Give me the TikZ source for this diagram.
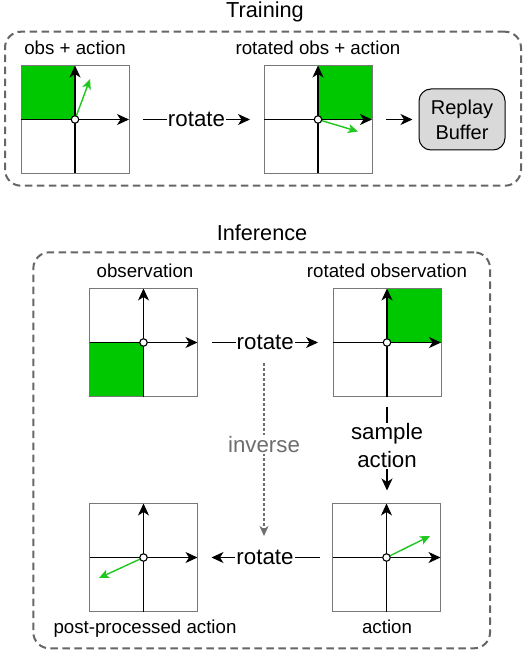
\documentclass[tikz,border=0pt]{standalone}
\usepackage{fontspec}
\setmainfont{Liberation Sans}
\usetikzlibrary{arrows.meta}
\definecolor{qgreen}{RGB}{0,200,0}
\definecolor{agreen}{RGB}{30,200,30}
\definecolor{dgray}{RGB}{102,102,102}
\definecolor{pgray}{RGB}{120,120,120}
\definecolor{igray}{RGB}{110,110,110}
\definecolor{rbfill}{RGB}{217,217,217}
\newcommand\panelaxes[1]{%
  \draw[pgray, line width=0.9pt] (#1.north west) rectangle (#1.south east);
  \draw[axis] (#1.west) -- (#1.center) -- (#1.south);
  \draw[axis,tip] (#1.center) -- (#1.east);
  \draw[axis,tip] (#1.center) -- (#1.north);
}
\begin{document}
\begin{tikzpicture}[x=1pt,y=-1pt,
  group/.style={draw=dgray, line width=2pt, dash pattern=on 7.5pt off 4.5pt, rounded corners=16pt, inner sep=0pt},
  panel/.style={draw=pgray, fill=white, line width=0.9pt, minimum size=108pt, inner sep=0pt, outer sep=0pt},
  axis/.style={line width=1.2pt, black},
  tip/.style={-{Stealth[length=12pt,width=11pt,inset=3.5pt]}},
  gtip/.style={-{Stealth[length=10pt,width=9pt,inset=2.5pt]}},
  garrow/.style={agreen, line width=1.4pt, gtip},
  origin/.style={circle, draw=black, fill=white, line width=1.1pt, inner sep=0pt, minimum size=7.5pt},
  lbl/.style={font=\fontsize{18.7}{22}\selectfont, anchor=base},
  big/.style={font=\fontsize{22.3}{28}\selectfont},
  title/.style={font=\fontsize{21.7}{26}\selectfont, anchor=base},
  conn/.style={line width=1.3pt, black, tip},
  clabel/.style={big, fill=white, inner xsep=1pt, inner ysep=1pt},
  invarrow/.style={igray, line width=1.2pt, dash pattern=on 3pt off 2pt, -{Stealth[length=10pt,width=9pt,inset=3pt]}},
  rbox/.style={draw=black, fill=rbfill, line width=1pt, rounded corners=12pt, minimum width=86pt, minimum height=61pt, align=center, font=\fontsize{20}{25}\selectfont, inner sep=0pt},
]
\useasboundingbox (0,0) rectangle (530,652);
\fill[white] (0,0) rectangle (530,652);

% ---------- Training ----------
\node[title] (ttrain) at (265,18) {Training};
\node[group, minimum width=516pt, minimum height=154pt] (gtrain) at (263,108.7) {};

\node[panel] (b1) at (75,119.5) {};
\node[panel] (b2) at (318,119.5) {};
\fill[qgreen] (b1.north west) rectangle (b1.center);
\fill[qgreen] (b2.north east) rectangle (b2.center);
\panelaxes{b1}
\panelaxes{b2}
\coordinate (a1) at (90,79);
\coordinate (a2) at (358,131.5);
\draw[garrow] (b1.center) -- (a1);
\draw[garrow] (b2.center) -- (a2);
\node[origin] (o1) at (b1.center) {};
\node[origin] (o2) at (b2.center) {};
\node[lbl] (l1) at (75,55) {obs + action};
\node[lbl] (l2) at (318,55) {rotated obs + action};

\node[rbox] (rb) at (462,119.5) {Replay\\Buffer};

\draw[conn, shorten <=14pt, shorten >=14pt] (b1.east) -- node[clabel] (r1) {rotate} (b2.west);
\draw[conn, shorten <=14pt, shorten >=6pt] (b2.east) -- (rb.west);

% ---------- Inference ----------
\node[title] (tinf) at (262,240) {Inference};
\node[group, minimum width=456.7pt, minimum height=396pt] (ginf) at (261.7,450.3) {};

\node[panel] (b3) at (143.5,342.5) {};
\node[panel] (b4) at (387,342.5) {};
\node[panel] (b5) at (386.5,557.5) {};
\node[panel] (b6) at (143.5,557.5) {};
\fill[qgreen] (b3.south west) rectangle (b3.center);
\fill[qgreen] (b4.north east) rectangle (b4.center);
\panelaxes{b3}
\panelaxes{b4}
\panelaxes{b5}
\panelaxes{b6}
\coordinate (a5) at (430,536);
\coordinate (a6) at (99,578);
\draw[garrow] (b5.center) -- (a5);
\draw[garrow] (b6.center) -- (a6);
\node[origin] (o3) at (b3.center) {};
\node[origin] (o4) at (b4.center) {};
\node[origin] (o5) at (b5.center) {};
\node[origin] (o6) at (b6.center) {};

\node[lbl] (l3) at (145,277) {observation};
\node[lbl] (l4) at (387,277) {rotated observation};
\node[lbl] (l5) at (387,633) {action};
\node[lbl] (l6) at (145,633) {post-processed action};

\draw[conn, shorten <=14pt, shorten >=15pt] (b3.east) -- node[clabel] (r2) {rotate} (b4.west);
\draw[conn, shorten <=10pt, shorten >=13pt] (b4.south) -- node[clabel, align=center, pos=0.46] (sa) {sample\\action} (b4.south |- b5.north);
\draw[conn, shorten <=13pt, shorten >=14pt] (b5.west) -- node[clabel] (r3) {rotate} (b6.east);

\coordinate (i1) at (264,363);
\coordinate (i2) at (264,536);
\draw[invarrow] (i1) -- node[clabel, text=igray, pos=0.47] (inv) {inverse} (i2);
\end{tikzpicture}
\end{document}
